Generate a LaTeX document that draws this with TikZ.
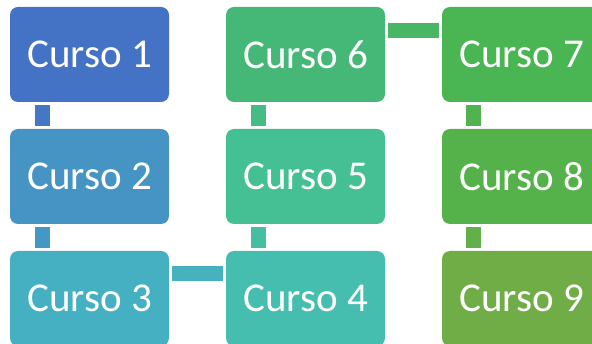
\documentclass[tikz,border=0pt]{standalone}
\usepackage{fontspec}
\setmainfont{Carlito}
\usetikzlibrary{calc}
\definecolor{cA}{HTML}{4472C4}
\definecolor{cB}{HTML}{4594C4}
\definecolor{cC}{HTML}{45B0C1}
\definecolor{cD}{HTML}{45BEB0}
\definecolor{cE}{HTML}{45BF94}
\definecolor{cF}{HTML}{45B878}
\definecolor{cG}{HTML}{4AB553}
\definecolor{cH}{HTML}{55B24A}
\definecolor{cI}{HTML}{70AD47}
\tikzset{
  coursebox/.style={fill=#1, draw=none, rounded corners=8pt, minimum width=159pt,
    minimum height=95pt, inner sep=0pt, text=white,
    font=\fontsize{41}{48}\selectfont},
  link/.style={fill=#1, draw=none}
}
\begin{document}
\begin{tikzpicture}[x=1pt,y=-1pt]
\useasboundingbox (0,0) rectangle (592,344);
\begin{scope}
\clip (0,0) rectangle (592,344);
\node[coursebox=cA] (b1) at (89.5,54.5) {Curso 1};
\node[coursebox=cB] (b2) at (89.5,176.5) {Curso 2};
\node[coursebox=cC] (b3) at (89.5,298.5) {Curso 3};
\node[coursebox=cD] (b4) at (305.5,298.5) {Curso 4};
\node[coursebox=cE] (b5) at (305.5,176.5) {Curso 5};
\node[coursebox=cF] (b6) at (305.5,54.5) {Curso 6};
\node[coursebox=cG] (b7) at (521.5,54.5) {Curso 7};
\node[coursebox=cH] (b8) at (521.5,176.5) {Curso 8};
\node[coursebox=cI] (b9) at (521.5,298.5) {Curso 9};
% connectors
\fill[link=cA!85!cB] ($(b1.south west)+(25,3)$) rectangle ($(b2.north west)+(40,-3)$);
\fill[link=cB!85!cC] ($(b2.south west)+(25,3)$) rectangle ($(b3.north west)+(40,-3)$);
\fill[link=cC!85!cD] ($(b3.north east)+(3,15)$) rectangle ($(b4.north west)+(-3,30)$);
\fill[link=cD!50!cE] ($(b4.north west)+(25,-3)$) rectangle ($(b5.south west)+(40,3)$);
\fill[link=cE!50!cF] ($(b5.north west)+(25,-3)$) rectangle ($(b6.south west)+(40,3)$);
\fill[link=cF!50!cG] ($(b6.north east)+(3,16)$) rectangle ($(b7.north west)+(-3,31)$);
\fill[link=cG!50!cH] ($(b7.south west)+(24,3)$) rectangle ($(b8.north west)+(39,-3)$);
\fill[link=cH!50!cI] ($(b8.south west)+(24,3)$) rectangle ($(b9.north west)+(39,-3)$);
\end{scope}
\end{tikzpicture}
\end{document}
